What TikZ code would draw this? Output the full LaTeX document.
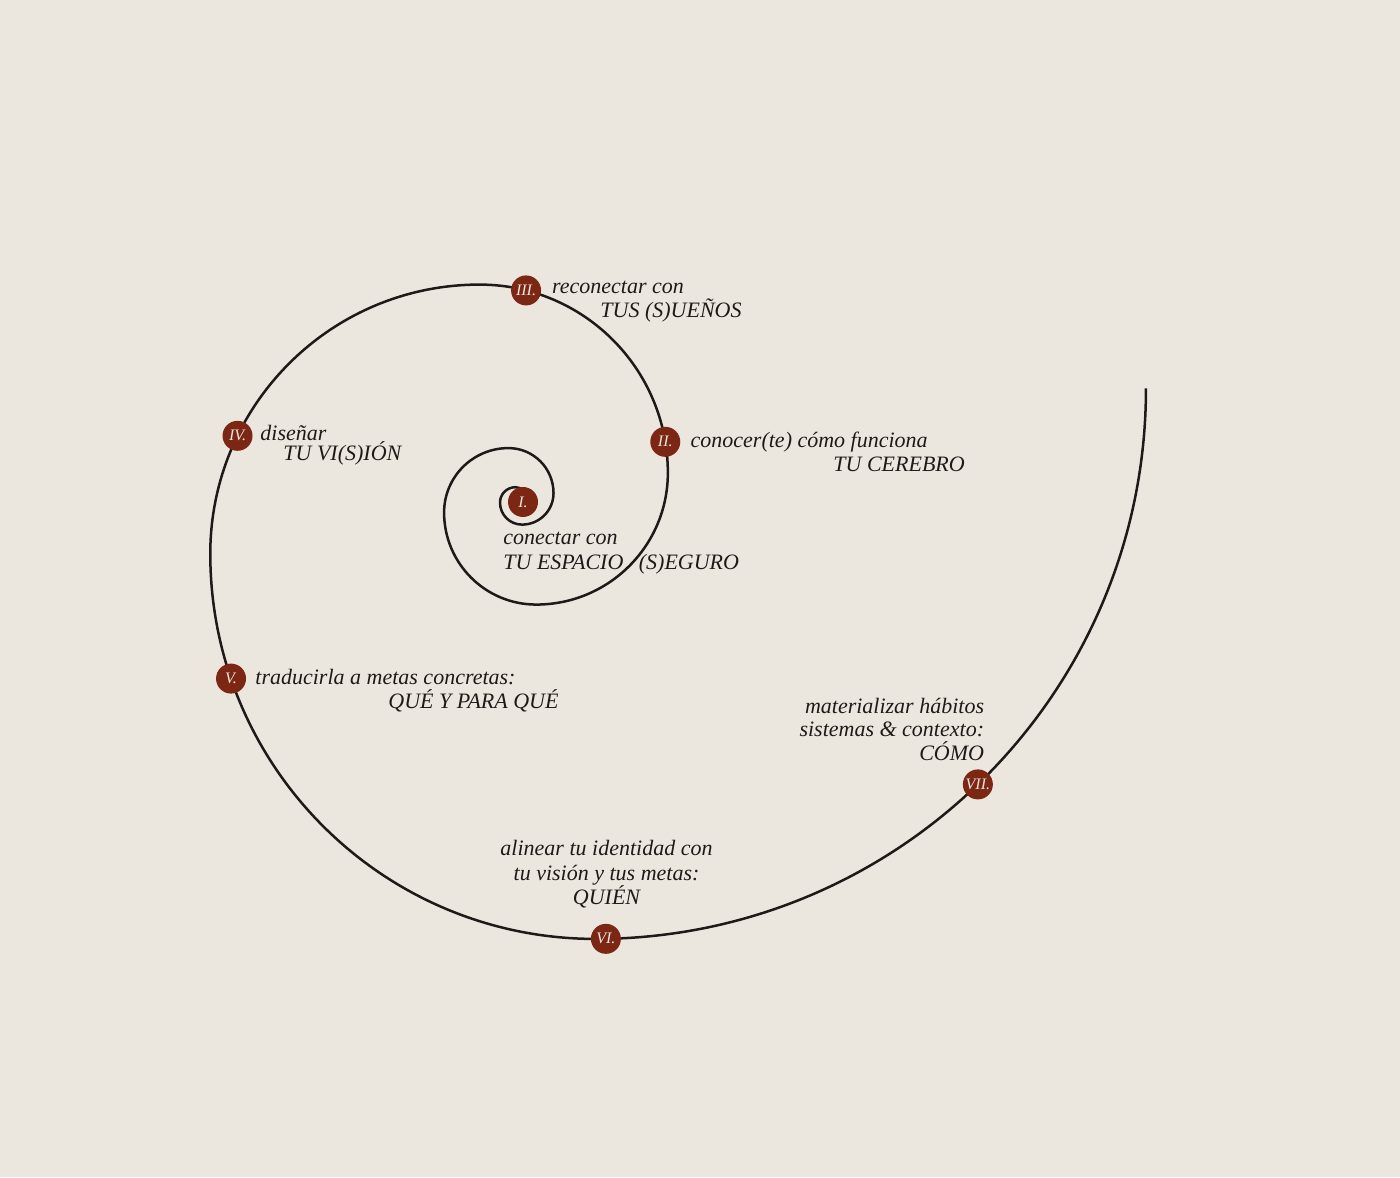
\documentclass[tikz,border=0pt]{standalone}
\usepackage{fontspec}
\setmainfont{Liberation Serif}
\usetikzlibrary{positioning,calc}

\definecolor{paper}{RGB}{236,231,222}
\definecolor{rust}{RGB}{124,38,20}
\definecolor{ink}{RGB}{30,26,24}

\begin{document}
\begin{tikzpicture}
	[x=0.5pt,y=0.5pt,
		stage/.style={circle,fill=rust,minimum size=15pt,inner sep=0pt,text=paper,font=\itshape\fontsize{8}{8}\selectfont},
		say/.style={inner sep=0pt,text=ink,font=\itshape\fontsize{11}{13}\selectfont}]

	\fill[paper] (0,0) rectangle (1400,1177);

	\coordinate (c7)  at (479.55,704.10);
	\coordinate (c8)  at (479.55,623.13);
	\coordinate (c9)  at (595.34,623.13);
	\coordinate (c10) at (595.34,788.71);

	\draw[ink,line width=1.25pt] (526.17,679.03)
	\foreach \k in {-1,...,10} {arc[start angle={90*\k+90}, end angle={90*\k+180}, radius={15.4*pow(1.43,\k)}]};

	\node[stage] (I)   at (523,675)                 {I.};
	\node[stage] (II)  at ($(c7)+(9.5:188.31)$)     {II.};
	\node[stage] (III) at ($(c7)+(75.7:188.31)$)    {III.};
	\node[stage] (IV)  at ($(c8)+(154:269.28)$)     {IV.};
	\node[stage] (V)   at ($(c9)+(198.9:385.07)$)   {V.};
	\node[stage] (VI)  at ($(c10)+(271.1:550.66)$)  {VI.};
	\node[stage] (VII) at ($(c10)+(314:550.66)$)    {VII.};

	\node[say,below left=21.5pt and 10pt of I.center,anchor=base west]      (I-a)   {conectar con};
	\node[say,below=12.25pt of I-a.base west,anchor=base west]              (I-b)   {TU ESPACIO\hspace{5pt} (S)EGURO};

	\node[say,below right=3pt and 12.5pt of II.center,anchor=base west]     (II-a)  {conocer(te) cómo funciona};
	\node[say,below right=11.85pt and 71.35pt of II-a.base west,anchor=base west] (II-b) {TU CEREBRO};

	\node[say,below right=1.45pt and 12.85pt of III.center,anchor=base west] (III-a) {reconectar con};
	\node[say,below right=12pt and 24.15pt of III-a.base west,anchor=base west] (III-b) {TUS (S)UEÑOS};

	\node[say,below right=2.1pt and 11.25pt of IV.center,anchor=base west]  (IV-a)  {diseñar};
	\node[say,below right=10pt and 11.5pt of IV-a.base west,anchor=base west] (IV-b) {TU VI(S)IÓN};

	\node[say,below right=3.2pt and 12pt of V.center,anchor=base west]      (V-a)   {traducirla a metas concretas:};
	\node[say,below right=12pt and 66.5pt of V-a.base west,anchor=base west] (V-b)  {QUÉ Y PARA QUÉ};

	\node[say,above right=17.4pt and 0.3pt of VI.center,anchor=base]        (VI-c)  {QUIÉN};
	\node[say,above=12pt of VI-c.base,anchor=base]                          (VI-b)  {tu visión y tus metas:};
	\node[say,above=12.5pt of VI-b.base,anchor=base]                        (VI-a)  {alinear tu identidad con};

	\node[say,above right=12.2pt and 3.3pt of VII.center,anchor=base east]  (VII-c) {CÓMO};
	\node[say,above=11.65pt of VII-c.base east,anchor=base east]            (VII-b) {sistemas \& contexto:};
	\node[say,above=11.7pt of VII-b.base east,anchor=base east]             (VII-a) {materializar hábitos};

\end{tikzpicture}
\end{document}
